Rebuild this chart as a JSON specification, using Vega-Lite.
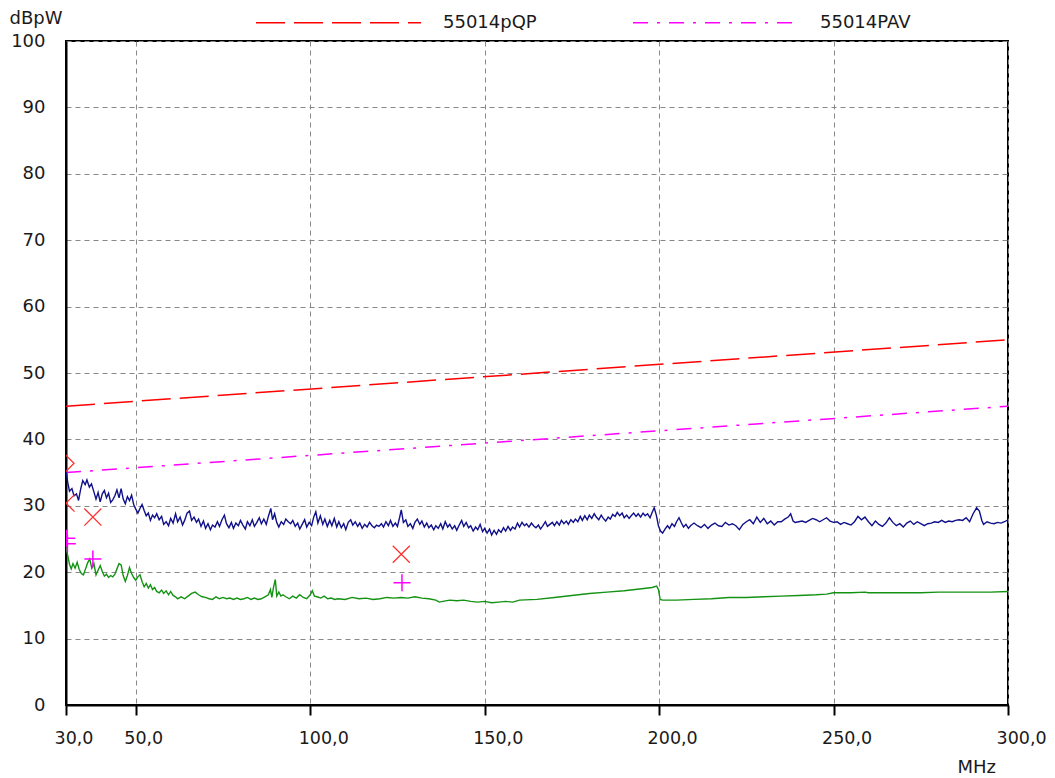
{
  "$schema": "https://vega.github.io/schema/vega-lite/v6.json",
  "width": 942,
  "height": 664,
  "autosize": {"type": "none"},
  "padding": {"left": 66, "top": 41, "right": 47, "bottom": 73},
  "background": "white",
  "config": {
    "view": {"stroke": "black", "strokeWidth": 2},
    "font": "DejaVu Sans"
  },
  "datasets": {
    "limits": [
      {"f": 30, "v": 45, "series": "55014pQP"},
      {"f": 300, "v": 55, "series": "55014pQP"},
      {"f": 30, "v": 35, "series": "55014PAV"},
      {"f": 300, "v": 45, "series": "55014PAV"}
    ],
    "qp_trace": [
      {"f":30,"v":35.5},{"f":30.5,"v":33.5},{"f":31,"v":32.2},{"f":31.7,"v":32.6},{"f":32.3,"v":31.5},{"f":33,"v":31.8},{"f":33.6,"v":30.8},{"f":34.2,"v":32.5},{"f":34.8,"v":33.8},{"f":35.5,"v":33.2},{"f":36,"v":33.9},{"f":36.7,"v":32.8},{"f":37.3,"v":33.3},{"f":38,"v":32.1},{"f":38.6,"v":31.0},{"f":39.2,"v":32.0},{"f":39.8,"v":30.6},{"f":40.4,"v":31.8},{"f":41,"v":32.3},{"f":41.6,"v":31.2},{"f":42.2,"v":31.9},{"f":42.8,"v":30.5},{"f":43.4,"v":30.9},{"f":44,"v":31.5},{"f":44.6,"v":32.4},{"f":45.2,"v":31.2},{"f":45.8,"v":32.6},{"f":46.4,"v":31.0},{"f":47,"v":30.3},{"f":47.6,"v":31.4},{"f":48.2,"v":30.8},{"f":48.8,"v":31.6},{"f":49.4,"v":30.2},{"f":50,"v":29.5},{"f":50.6,"v":28.9},{"f":51.2,"v":29.6},{"f":51.8,"v":30.2},{"f":52.4,"v":29.3},{"f":53,"v":28.5},{"f":53.6,"v":28.9},{"f":54.2,"v":27.8},{"f":54.8,"v":28.6},{"f":55.4,"v":28.2},{"f":56,"v":28.8},{"f":56.7,"v":27.9},{"f":57.4,"v":28.4},{"f":58,"v":27.2},{"f":58.7,"v":27.6},{"f":59.4,"v":27.0},{"f":60,"v":28.1},{"f":60.7,"v":27.4},{"f":61.4,"v":28.8},{"f":62,"v":27.6},{"f":62.7,"v":28.3},{"f":63.4,"v":27.1},{"f":64,"v":27.8},{"f":64.7,"v":28.9},{"f":65.4,"v":29.2},{"f":66,"v":27.8},{"f":66.7,"v":28.3},{"f":67.4,"v":27.5},{"f":68,"v":28.0},{"f":68.7,"v":26.9},{"f":69.4,"v":27.7},{"f":70,"v":26.6},{"f":70.7,"v":27.3},{"f":71.4,"v":26.4},{"f":72,"v":27.1},{"f":72.7,"v":26.8},{"f":73.4,"v":27.6},{"f":74,"v":26.9},{"f":74.7,"v":27.9},{"f":75.4,"v":28.6},{"f":76,"v":27.3},{"f":76.7,"v":26.7},{"f":77.4,"v":27.5},{"f":78,"v":26.6},{"f":78.7,"v":27.4},{"f":79.4,"v":27.0},{"f":80,"v":27.8},{"f":80.7,"v":27.1},{"f":81.4,"v":26.5},{"f":82,"v":27.6},{"f":82.7,"v":27.0},{"f":83.4,"v":27.9},{"f":84,"v":26.9},{"f":84.7,"v":27.5},{"f":85.4,"v":28.2},{"f":86,"v":27.3},{"f":86.7,"v":28.0},{"f":87.4,"v":27.2},{"f":88,"v":28.4},{"f":88.7,"v":29.6},{"f":89.2,"v":27.9},{"f":89.8,"v":28.8},{"f":90.4,"v":27.5},{"f":91,"v":26.8},{"f":91.7,"v":27.6},{"f":92.4,"v":27.2},{"f":93,"v":28.0},{"f":93.7,"v":27.6},{"f":94.4,"v":27.3},{"f":95,"v":27.8},{"f":95.7,"v":26.9},{"f":96.4,"v":27.4},{"f":97,"v":26.5},{"f":97.7,"v":27.2},{"f":98.4,"v":27.9},{"f":99,"v":26.8},{"f":99.7,"v":27.5},{"f":100.4,"v":27.0},{"f":101,"v":28.3},{"f":101.6,"v":29.1},{"f":102.2,"v":27.4},{"f":102.9,"v":28.5},{"f":103.6,"v":27.2},{"f":104.2,"v":28.0},{"f":104.9,"v":26.9},{"f":105.6,"v":27.8},{"f":106.2,"v":27.0},{"f":106.9,"v":28.1},{"f":107.6,"v":26.8},{"f":108.2,"v":27.6},{"f":108.9,"v":26.7},{"f":109.6,"v":27.3},{"f":110.2,"v":26.4},{"f":110.9,"v":27.5},{"f":111.6,"v":27.9},{"f":112.2,"v":27.1},{"f":112.9,"v":27.6},{"f":113.6,"v":26.9},{"f":114.2,"v":27.4},{"f":114.9,"v":26.6},{"f":115.6,"v":27.2},{"f":116.3,"v":26.8},{"f":117,"v":27.5},{"f":117.7,"v":27.0},{"f":118.4,"v":26.7},{"f":119,"v":27.1},{"f":119.7,"v":26.9},{"f":120.4,"v":27.3},{"f":121,"v":26.8},{"f":121.7,"v":27.6},{"f":122.4,"v":27.0},{"f":123,"v":27.8},{"f":123.7,"v":26.9},{"f":124.4,"v":27.4},{"f":125,"v":26.9},{"f":125.6,"v":28.2},{"f":126.1,"v":29.4},{"f":126.7,"v":27.5},{"f":127.4,"v":27.9},{"f":128,"v":26.9},{"f":128.7,"v":27.3},{"f":129.4,"v":26.6},{"f":130,"v":27.5},{"f":130.7,"v":28.0},{"f":131.4,"v":27.2},{"f":132,"v":27.7},{"f":132.7,"v":26.8},{"f":133.4,"v":27.4},{"f":134,"v":26.7},{"f":134.7,"v":27.1},{"f":135.4,"v":26.4},{"f":136,"v":27.0},{"f":136.7,"v":26.6},{"f":137.4,"v":27.3},{"f":138,"v":26.5},{"f":138.7,"v":27.6},{"f":139.4,"v":26.8},{"f":140,"v":27.2},{"f":140.7,"v":26.5},{"f":141.4,"v":27.0},{"f":142,"v":26.3},{"f":142.7,"v":27.1},{"f":143.4,"v":27.8},{"f":144,"v":26.9},{"f":144.7,"v":27.5},{"f":145.4,"v":26.7},{"f":146,"v":27.0},{"f":146.7,"v":26.2},{"f":147.4,"v":26.8},{"f":148,"v":26.4},{"f":148.7,"v":27.2},{"f":149.4,"v":26.1},{"f":150,"v":26.6},{"f":150.7,"v":25.9},{"f":151.4,"v":26.5},{"f":152,"v":25.6},{"f":152.7,"v":26.3},{"f":153.4,"v":25.7},{"f":154,"v":26.4},{"f":154.7,"v":26.0},{"f":155.4,"v":26.7},{"f":156,"v":26.2},{"f":156.7,"v":26.9},{"f":157.4,"v":26.3},{"f":158,"v":26.8},{"f":158.7,"v":26.5},{"f":159.4,"v":27.4},{"f":160,"v":26.8},{"f":160.7,"v":27.5},{"f":161.4,"v":27.0},{"f":162,"v":27.3},{"f":162.7,"v":26.8},{"f":163.4,"v":27.4},{"f":164,"v":27.0},{"f":164.7,"v":26.7},{"f":165.4,"v":27.1},{"f":166,"v":26.5},{"f":166.7,"v":27.0},{"f":167.4,"v":27.6},{"f":168,"v":26.9},{"f":168.7,"v":27.2},{"f":169.4,"v":27.5},{"f":170,"v":27.0},{"f":170.7,"v":27.6},{"f":171.4,"v":27.1},{"f":172,"v":27.8},{"f":172.7,"v":27.3},{"f":173.4,"v":27.7},{"f":174,"v":27.2},{"f":174.7,"v":27.9},{"f":175.4,"v":27.5},{"f":176,"v":28.0},{"f":176.7,"v":27.6},{"f":177.4,"v":28.4},{"f":178,"v":27.8},{"f":178.7,"v":28.5},{"f":179.4,"v":27.9},{"f":180,"v":28.6},{"f":180.7,"v":28.1},{"f":181.4,"v":28.8},{"f":182,"v":28.3},{"f":182.7,"v":27.9},{"f":183.4,"v":28.6},{"f":184,"v":28.1},{"f":184.7,"v":27.7},{"f":185.4,"v":28.3},{"f":186,"v":28.0},{"f":186.7,"v":28.7},{"f":187.4,"v":28.4},{"f":188,"v":29.0},{"f":188.7,"v":28.5},{"f":189.4,"v":28.9},{"f":190,"v":28.2},{"f":190.7,"v":28.6},{"f":191.4,"v":28.1},{"f":192,"v":28.5},{"f":192.7,"v":28.9},{"f":193.4,"v":28.4},{"f":194,"v":28.8},{"f":194.7,"v":28.3},{"f":195.4,"v":28.9},{"f":196,"v":28.5},{"f":196.7,"v":28.8},{"f":197.4,"v":28.2},{"f":198,"v":29.0},{"f":198.6,"v":29.7},{"f":199.2,"v":28.6},{"f":199.8,"v":27.0},{"f":200.4,"v":26.2},{"f":201,"v":25.9},{"f":201.7,"v":26.5},{"f":202.4,"v":27.0},{"f":203,"v":26.6},{"f":203.7,"v":27.3},{"f":204.4,"v":26.9},{"f":205,"v":27.6},{"f":205.7,"v":28.2},{"f":206.4,"v":27.4},{"f":207,"v":26.8},{"f":207.7,"v":27.2},{"f":208.4,"v":26.6},{"f":209,"v":27.0},{"f":210,"v":27.4},{"f":211,"v":27.0},{"f":212,"v":26.7},{"f":213,"v":27.2},{"f":214,"v":26.6},{"f":215,"v":27.1},{"f":216,"v":27.4},{"f":217,"v":27.0},{"f":218,"v":26.9},{"f":219,"v":27.5},{"f":220,"v":27.1},{"f":221,"v":27.3},{"f":222,"v":27.0},{"f":223,"v":26.4},{"f":224,"v":27.2},{"f":225,"v":27.6},{"f":226,"v":27.9},{"f":227,"v":27.3},{"f":228,"v":28.3},{"f":229,"v":27.5},{"f":230,"v":28.1},{"f":231,"v":27.3},{"f":232,"v":27.7},{"f":233,"v":27.1},{"f":234,"v":27.6},{"f":235,"v":27.6},{"f":236,"v":28.0},{"f":237,"v":28.3},{"f":237.7,"v":28.8},{"f":238.4,"v":27.7},{"f":239,"v":27.5},{"f":240,"v":27.6},{"f":241,"v":27.7},{"f":242,"v":27.5},{"f":243,"v":27.8},{"f":244,"v":28.1},{"f":245,"v":27.9},{"f":246,"v":27.6},{"f":247,"v":27.9},{"f":248,"v":28.2},{"f":249,"v":27.7},{"f":250,"v":27.5},{"f":251,"v":27.6},{"f":252,"v":27.2},{"f":253,"v":27.5},{"f":254,"v":27.3},{"f":255,"v":27.1},{"f":256,"v":27.6},{"f":257,"v":28.4},{"f":258,"v":27.9},{"f":259,"v":28.3},{"f":260,"v":27.6},{"f":261,"v":27.0},{"f":262,"v":27.7},{"f":263,"v":27.2},{"f":264,"v":26.9},{"f":265,"v":27.4},{"f":266,"v":28.2},{"f":267,"v":27.5},{"f":268,"v":27.0},{"f":269,"v":27.3},{"f":270,"v":26.8},{"f":271,"v":27.4},{"f":272,"v":27.7},{"f":273,"v":27.2},{"f":274,"v":27.6},{"f":275,"v":27.3},{"f":276,"v":27.0},{"f":277,"v":27.3},{"f":278,"v":27.4},{"f":279,"v":27.6},{"f":280,"v":27.5},{"f":281,"v":27.8},{"f":282,"v":27.5},{"f":283,"v":27.7},{"f":284,"v":27.6},{"f":285,"v":27.8},{"f":286,"v":27.9},{"f":287,"v":27.8},{"f":288,"v":28.2},{"f":289,"v":27.6},{"f":290,"v":28.8},{"f":291,"v":29.7},{"f":291.8,"v":29.2},{"f":292.5,"v":27.8},{"f":293,"v":27.2},{"f":294,"v":27.6},{"f":295,"v":27.4},{"f":296,"v":27.3},{"f":297,"v":27.5},{"f":298,"v":27.4},{"f":299,"v":27.6},{"f":300,"v":27.9}
    ],
    "av_trace": [
      {"f":30,"v":23.8},{"f":30.5,"v":22.5},{"f":31,"v":21.2},{"f":31.5,"v":20.5},{"f":32,"v":21.3},{"f":32.6,"v":20.6},{"f":33.2,"v":21.5},{"f":33.8,"v":20.4},{"f":34.4,"v":19.8},{"f":35,"v":19.6},{"f":35.6,"v":20.5},{"f":36.2,"v":21.4},{"f":36.8,"v":22.0},{"f":37.4,"v":20.6},{"f":38,"v":21.3},{"f":38.6,"v":19.6},{"f":39.2,"v":20.3},{"f":39.8,"v":21.0},{"f":40.4,"v":20.1},{"f":41,"v":19.4},{"f":41.6,"v":19.7},{"f":42.2,"v":19.2},{"f":42.8,"v":19.5},{"f":43.4,"v":19.3},{"f":44,"v":19.7},{"f":44.6,"v":20.5},{"f":45.2,"v":21.3},{"f":45.8,"v":21.1},{"f":46.4,"v":19.5},{"f":47,"v":18.6},{"f":47.6,"v":19.5},{"f":48.2,"v":20.7},{"f":48.8,"v":19.8},{"f":49.4,"v":19.2},{"f":50,"v":18.8},{"f":50.6,"v":19.3},{"f":51.2,"v":19.6},{"f":51.8,"v":18.6},{"f":52.4,"v":17.8},{"f":53,"v":18.3},{"f":53.6,"v":17.6},{"f":54.2,"v":18.1},{"f":54.8,"v":17.4},{"f":55.4,"v":17.7},{"f":56,"v":17.1},{"f":56.7,"v":16.9},{"f":57.4,"v":17.3},{"f":58,"v":16.8},{"f":58.7,"v":17.2},{"f":59.4,"v":16.6},{"f":60,"v":17.1},{"f":60.7,"v":16.5},{"f":61.4,"v":16.3},{"f":62,"v":16.0},{"f":63,"v":16.3},{"f":64,"v":16.0},{"f":65,"v":16.4},{"f":66,"v":16.8},{"f":67,"v":17.0},{"f":68,"v":16.6},{"f":69,"v":16.3},{"f":70,"v":16.2},{"f":71,"v":16.0},{"f":72,"v":15.9},{"f":73,"v":16.3},{"f":74,"v":16.0},{"f":75,"v":16.2},{"f":76,"v":16.0},{"f":77,"v":16.1},{"f":78,"v":15.9},{"f":79,"v":16.1},{"f":80,"v":15.9},{"f":81,"v":16.0},{"f":82,"v":16.2},{"f":83,"v":15.9},{"f":84,"v":16.1},{"f":85,"v":15.9},{"f":86,"v":16.0},{"f":87,"v":16.3},{"f":88,"v":16.6},{"f":88.6,"v":17.4},{"f":89,"v":16.2},{"f":89.5,"v":17.8},{"f":90,"v":18.9},{"f":90.4,"v":16.4},{"f":91,"v":17.0},{"f":91.6,"v":16.4},{"f":92.2,"v":16.6},{"f":93,"v":16.3},{"f":94,"v":16.0},{"f":95,"v":16.4},{"f":96,"v":16.1},{"f":97,"v":16.6},{"f":98,"v":16.2},{"f":99,"v":16.0},{"f":100,"v":16.6},{"f":100.6,"v":17.2},{"f":101.2,"v":16.4},{"f":102,"v":16.3},{"f":103,"v":16.1},{"f":104,"v":16.4},{"f":105,"v":16.0},{"f":106,"v":16.1},{"f":107,"v":15.9},{"f":108,"v":16.0},{"f":110,"v":15.9},{"f":112,"v":16.2},{"f":114,"v":16.0},{"f":116,"v":16.1},{"f":118,"v":15.9},{"f":120,"v":16.0},{"f":122,"v":16.2},{"f":124,"v":16.1},{"f":126,"v":16.2},{"f":128,"v":16.1},{"f":130,"v":16.3},{"f":132,"v":16.1},{"f":134,"v":16.0},{"f":136,"v":15.8},{"f":137,"v":15.5},{"f":138,"v":15.6},{"f":140,"v":15.8},{"f":142,"v":15.7},{"f":144,"v":15.8},{"f":146,"v":15.6},{"f":148,"v":15.5},{"f":150,"v":15.6},{"f":152,"v":15.4},{"f":154,"v":15.5},{"f":156,"v":15.6},{"f":158,"v":15.5},{"f":160,"v":15.8},{"f":165,"v":15.9},{"f":170,"v":16.2},{"f":175,"v":16.5},{"f":180,"v":16.8},{"f":185,"v":17.0},{"f":190,"v":17.2},{"f":195,"v":17.5},{"f":198,"v":17.7},{"f":199.3,"v":17.9},{"f":199.8,"v":17.4},{"f":200.3,"v":15.9},{"f":201,"v":15.8},{"f":205,"v":15.8},{"f":210,"v":15.9},{"f":215,"v":16.0},{"f":220,"v":16.2},{"f":225,"v":16.2},{"f":230,"v":16.3},{"f":235,"v":16.4},{"f":240,"v":16.5},{"f":245,"v":16.6},{"f":248,"v":16.7},{"f":250,"v":16.9},{"f":255,"v":16.9},{"f":259,"v":17.0},{"f":260,"v":16.9},{"f":265,"v":16.9},{"f":270,"v":16.9},{"f":275,"v":16.9},{"f":280,"v":17.0},{"f":285,"v":17.0},{"f":290,"v":17.0},{"f":295,"v":17.0},{"f":300,"v":17.1}
    ],
    "qp_x": [
      {"f": 30, "v": 30.4},
      {"f": 37.7, "v": 28.3},
      {"f": 126.1, "v": 22.7}
    ],
    "qp_diamond": [
      {"f": 30, "v": 36.4}
    ],
    "av_plus": [
      {"f": 30.2, "v": 25.1},
      {"f": 30.4, "v": 24.3},
      {"f": 37.7, "v": 22.0},
      {"f": 126.3, "v": 18.4}
    ]
  },
  "encoding": {
    "x": {
      "field": "f",
      "type": "quantitative",
      "scale": {"domain": [30, 300], "nice": false, "zero": false},
      "axis": {
        "values": [30, 50, 100, 150, 200, 250, 300],
        "labelExpr": "replace(format(datum.value, '.1f'), '.', ',')",
        "labelFlush": false,
        "labelAlign": "left",
        "labelOffset": -12,
        "labelFont": "DejaVu Sans",
        "labelFontSize": 17.5,
        "labelColor": "#1a1a1a",
        "labelPadding": 14,
        "grid": true,
        "gridColor": "#888888",
        "gridDash": [5, 4],
        "gridWidth": 1,
        "ticks": true,
        "tickSize": 10,
        "tickColor": "black",
        "tickWidth": 2,
        "domainColor": "black",
        "domainWidth": 2,
        "title": "MHz",
        "titleFont": "DejaVu Sans",
        "titleFontSize": 18,
        "titleFontWeight": "normal",
        "titleColor": "#1a1a1a",
        "titleAlign": "left",
        "titleBaseline": "middle",
        "titleAnchor": "start",
        "titleX": 891,
        "titleY": 62
      }
    },
    "y": {
      "field": "v",
      "type": "quantitative",
      "scale": {"domain": [0, 100], "nice": false},
      "axis": {
        "values": [0, 10, 20, 30, 40, 50, 60, 70, 80, 90, 100],
        "labelFont": "DejaVu Sans",
        "labelFontSize": 18,
        "labelColor": "#1a1a1a",
        "labelPadding": 21,
        "ticks": false,
        "grid": true,
        "gridColor": "#888888",
        "gridDash": [5, 4],
        "gridWidth": 1,
        "domainColor": "black",
        "domainWidth": 2,
        "title": "dBpW",
        "titleFont": "DejaVu Sans",
        "titleFontSize": 18,
        "titleFontWeight": "normal",
        "titleColor": "#1a1a1a",
        "titleAngle": 0,
        "titleAlign": "left",
        "titleBaseline": "middle",
        "titleX": -57,
        "titleY": -23
      }
    }
  },
  "layer": [
    {
      "data": {"name": "limits"},
      "mark": {"type": "line", "strokeWidth": 1.5, "clip": true},
      "encoding": {
        "color": {
          "field": "series",
          "type": "nominal",
          "scale": {"domain": ["55014pQP", "55014PAV"], "range": ["#ff0000", "#ff00ff"]},
          "legend": {
            "orient": "none",
            "legendX": 189,
            "legendY": -102,
            "direction": "horizontal",
            "title": null,
            "padding": 0,
            "symbolType": "stroke",
            "symbolSize": 27225,
            "symbolStrokeWidth": 1.5,
            "labelFont": "DejaVu Sans",
            "labelFontSize": 18,
            "labelColor": "#1a1a1a",
            "labelOffset": 21,
            "columnPadding": 93
          }
        },
        "strokeDash": {
          "field": "series",
          "type": "nominal",
          "scale": {"domain": ["55014pQP", "55014PAV"], "range": [[29, 9], [15, 9, 3, 9]]},
          "legend": {
            "orient": "none",
            "legendX": 189,
            "legendY": -102,
            "direction": "horizontal",
            "title": null,
            "padding": 0,
            "symbolType": "stroke",
            "symbolSize": 27225,
            "symbolStrokeWidth": 1.5,
            "labelFont": "DejaVu Sans",
            "labelFontSize": 18,
            "labelColor": "#1a1a1a",
            "labelOffset": 21,
            "columnPadding": 93
          }
        }
      }
    },
    {
      "data": {"name": "qp_trace"},
      "mark": {"type": "line", "color": "#10108a", "strokeWidth": 1.4, "clip": true},
      "encoding": {}
    },
    {
      "data": {"name": "av_trace"},
      "mark": {"type": "line", "color": "#139213", "strokeWidth": 1.4, "clip": true},
      "encoding": {}
    },
    {
      "data": {"name": "qp_x"},
      "mark": {"type": "point", "shape": "M-1,-1L1,1M-1,1L1,-1", "size": 290, "filled": false, "color": "#ff3030", "strokeWidth": 1.3, "opacity": 1, "clip": true},
      "encoding": {}
    },
    {
      "data": {"name": "qp_diamond"},
      "mark": {"type": "point", "shape": "diamond", "size": 256, "filled": false, "color": "#ff3030", "strokeWidth": 1.3, "opacity": 1, "clip": true},
      "encoding": {}
    },
    {
      "data": {"name": "av_plus"},
      "mark": {"type": "point", "shape": "M-1,0L1,0M0,-1L0,1", "size": 290, "filled": false, "color": "#ff00ff", "strokeWidth": 1.5, "opacity": 1, "clip": true},
      "encoding": {}
    }
  ]
}
